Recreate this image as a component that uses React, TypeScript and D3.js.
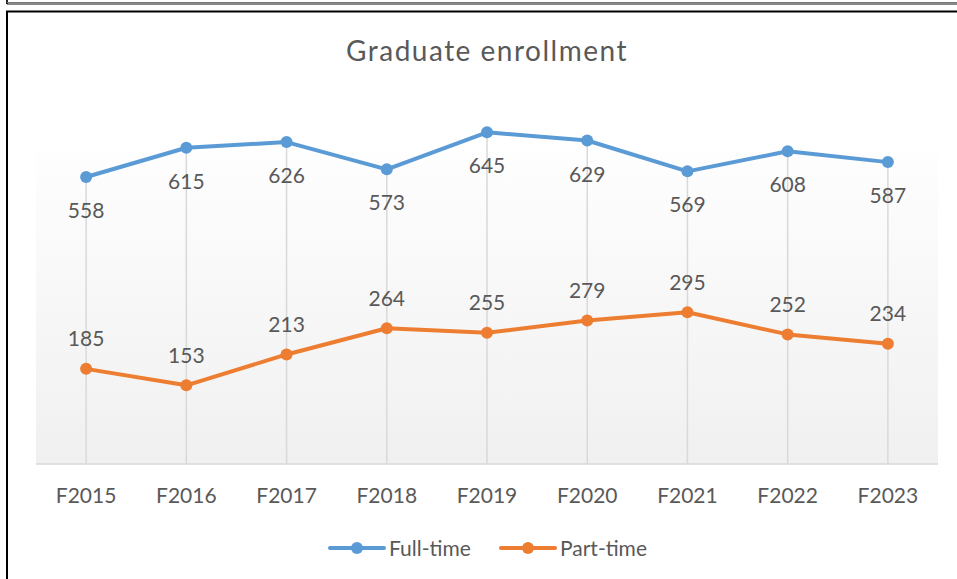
import React from "react";
import * as d3 from "d3";

const categories = ["F2015", "F2016", "F2017", "F2018", "F2019", "F2020", "F2021", "F2022", "F2023"];
const fullTime = [558, 615, 626, 573, 645, 629, 569, 608, 587];
const partTime = [185, 153, 213, 264, 255, 279, 295, 252, 234];
const seriesNames = ["Full-time", "Part-time"];
const seriesColors = ["#5B9BD5", "#ED7D31"];
const title = "Graduate enrollment";

const W = 957;
const H = 579;
const FONT = "Lato, Carlito, Calibri, 'Open Sans', sans-serif";
const TEXT = "#595959";

export default function App() {
  const plotL = 36, plotR = 938, plotT = 104, plotB = 464;
  const x = d3.scaleBand<string>().domain(categories).range([plotL, plotR]);
  const cx = (c: string) => (x(c) as number) + x.bandwidth() / 2;
  const y = d3.scaleLinear().domain([0, 700]).range([plotB, plotT]);
  const line = d3.line<number>().x((_, i) => cx(categories[i])).y((v) => y(v));
  const series = [fullTime, partTime];
  const legendX = [330, 501];

  return (
    <div style={{ position: "absolute", left: 0, top: 0, width: W, height: H, background: "#fff" }}>
      <svg width={W} height={H} style={{ display: "block" }}>
        <defs>
          <linearGradient id="plotGrad" x1="0" y1="0" x2="0" y2="1">
            <stop offset="0" stopColor="#fefefe" />
            <stop offset="1" stopColor="#f0f0f0" />
          </linearGradient>
        </defs>
        {/* outer frames */}
        <line x1={7} y1={0} x2={7} y2={4} stroke="#222" strokeWidth={2} />
        <line x1={7} y1={2.5} x2={W} y2={2.5} stroke="#777" strokeWidth={1} />
        <line x1={7} y1={4} x2={W} y2={4} stroke="#111" strokeWidth={1} />
        <line x1={6} y1={11.5} x2={W} y2={11.5} stroke="#000" strokeWidth={2} />
        <line x1={7} y1={11} x2={7} y2={H} stroke="#000" strokeWidth={2} />

        {/* plot area */}
        <rect x={plotL} y={150} width={plotR - plotL} height={plotB - 150} fill="url(#plotGrad)" />

        {/* drop lines */}
        {categories.map((c, i) => (
          <line key={c} x1={cx(c)} x2={cx(c)} y1={y(Math.max(fullTime[i], partTime[i]))} y2={plotB}
            stroke="#d9d9d9" strokeWidth={1.5} />
        ))}
        {/* x axis */}
        <line x1={plotL} x2={plotR} y1={plotB} y2={plotB} stroke="#d9d9d9" strokeWidth={1.5} />

        {/* title */}
        <text x={487} y={61} textAnchor="middle" fontFamily={FONT} fontSize={28} letterSpacing={1.5} fill={TEXT}>{title}</text>

        {/* x labels */}
        {categories.map((c) => (
          <text key={c} x={cx(c)} y={503} textAnchor="middle" fontFamily={FONT} fontSize={21} fill={TEXT}>{c}</text>
        ))}

        {/* series */}
        {series.map((s, si) => (
          <g key={si}>
            <path d={line(s) as string} fill="none" stroke={seriesColors[si]} strokeWidth={4} strokeLinejoin="round" strokeLinecap="round" />
            {s.map((v, i) => (
              <circle key={i} cx={cx(categories[i])} cy={y(v)} r={6} fill={seriesColors[si]} />
            ))}
            {s.map((v, i) => (
              <text key={"t" + i} x={cx(categories[i])} y={si === 0 ? y(v) + 41 : y(v) - 22.5}
                textAnchor="middle" fontFamily={FONT} fontSize={21} fill={TEXT}>{v}</text>
            ))}
          </g>
        ))}

        {/* legend */}
        {seriesNames.map((n, i) => (
          <g key={n}>
            <line x1={legendX[i]} x2={legendX[i] + 54} y1={548} y2={548} stroke={seriesColors[i]} strokeWidth={4} strokeLinecap="round" />
            <circle cx={legendX[i] + 27} cy={548} r={6} fill={seriesColors[i]} />
            <text x={legendX[i] + 59} y={556} fontFamily={FONT} fontSize={21} fill={TEXT}>{n}</text>
          </g>
        ))}
      </svg>
    </div>
  );
}
